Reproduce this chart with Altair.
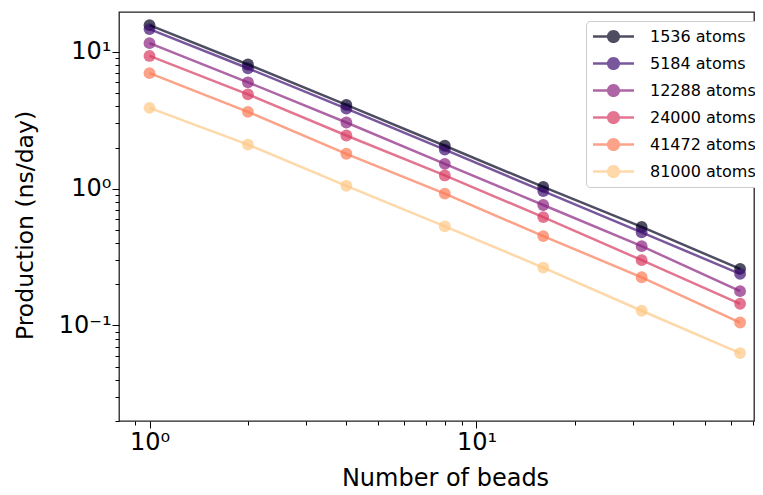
import altair as alt
import pandas as pd

beads = [1, 2, 4, 8, 16, 32, 64]
systems = ["1536 atoms", "5184 atoms", "12288 atoms", "24000 atoms", "41472 atoms", "81000 atoms"]
p1536 = [15.7, 8.1, 4.1, 2.06, 1.03, 0.525, 0.259]
p5184 = [14.7, 7.6, 3.85, 1.93, 0.96, 0.48, 0.238]
p12288 = [11.6, 6.0, 3.05, 1.52, 0.76, 0.38, 0.178]
p24000 = [9.35, 4.9, 2.45, 1.25, 0.62, 0.30, 0.144]
p41472 = [7.0, 3.65, 1.8, 0.92, 0.45, 0.225, 0.105]
p81000 = [3.9, 2.1, 1.05, 0.53, 0.265, 0.128, 0.0628]
series = [p1536, p5184, p12288, p24000, p41472, p81000]
colors = ["#03021f", "#3e0f72", "#8a2480", "#d83a62", "#fa7a55", "#fec785"]

x_ticks = [0.9, 1, 2, 3, 4, 5, 6, 7, 8, 9, 10, 20, 30, 40, 50, 60, 70]
y_ticks = [0.02, 0.03, 0.04, 0.05, 0.06, 0.07, 0.08, 0.09, 0.1,
           0.2, 0.3, 0.4, 0.5, 0.6, 0.7, 0.8, 0.9, 1,
           2, 3, 4, 5, 6, 7, 8, 9, 10]

rows = []
for name, vals in zip(systems, series):
    for b, v in zip(beads, vals):
        rows.append({"beads": b, "prod": v, "system": name})
df = pd.DataFrame(rows)

FONT = "DejaVu Sans"
major_test = "abs(log(datum.value)/LN10 - round(log(datum.value)/LN10)) < 1e-6"
label_expr = ("datum.value == 1 ? '10⁰' : datum.value == 10 ? '10¹' : "
              "datum.value == 0.1 ? '10⁻¹' : ''")

legend_path = ("M -2.5 -0.15 L 2.5 -0.15 L 2.5 0.15 L -2.5 0.15 Z "
               "M -0.8 0 A 0.8 0.8 0 1 1 0.8 0 A 0.8 0.8 0 1 1 -0.8 0 Z")

color = alt.Color(
    "system:N",
    scale=alt.Scale(domain=systems, range=colors),
    sort=systems,
    legend=alt.Legend(
        title=None,
        orient="none",
        legendX=467,
        legendY=9,
        symbolType=legend_path,
        symbolSize=269,
        symbolOffset=12,
        symbolStrokeWidth=0,
        symbolOpacity=0.7,
        labelOffset=28,
        rowPadding=10,
        padding=7,
        labelFont=FONT,
        labelFontSize=16,
        labelColor="black",
        strokeColor="#cccccc",
        cornerRadius=4,
        fillColor="white",
    ),
)

x = alt.X(
    "beads:Q",
    scale=alt.Scale(type="log", domain=[0.8067, 70.58], nice=False),
    axis=alt.Axis(
        title="Number of beads",
        values=x_ticks,
        labelExpr=label_expr,
        grid=False,
        domain=False,
        tickColor="black",
        tickWidth=1,
        tickSize={"condition": {"test": major_test, "value": 7}, "value": 4},
        labelFont=FONT,
        labelFontSize=24,
        labelColor="black",
        labelPadding=2,
        labelOverlap=False,
        labelFlush=False,
        titleFont=FONT,
        titleFontSize=24,
        titleFontWeight="normal",
        titleColor="black",
        titleX=326,
        titleY=64,
        titleBaseline="alphabetic",
    ),
)

y = alt.Y(
    "prod:Q",
    scale=alt.Scale(type="log", domain=[0.02, 19.6], nice=False),
    axis=alt.Axis(
        title="Production (ns/day)",
        values=y_ticks,
        labelExpr=label_expr,
        grid=False,
        domain=False,
        tickColor="black",
        tickWidth=1,
        tickSize={"condition": {"test": major_test, "value": 7}, "value": 4},
        labelFont=FONT,
        labelFontSize=24,
        labelColor="black",
        labelPadding=1,
        labelOverlap=False,
        labelFlush=False,
        titleFont=FONT,
        titleFontSize=23.5,
        titleFontWeight="normal",
        titleColor="black",
        titleX=-87,
        titleY=213,
        titleBaseline="alphabetic",
    ),
)

points = alt.Chart(df).mark_point(filled=True, size=140, opacity=0.7).encode(
    x=x, y=y, color=color
)
lines = alt.Chart(df).mark_line(strokeWidth=2.5, opacity=0.7).encode(
    x=x, y=y, color=color, detail="system:N"
)

chart = (
    alt.layer(points, lines)
    .properties(
        width=635,
        height=409,
        padding={"left": 111, "top": 4, "right": 1, "bottom": 74},
        autosize=alt.AutoSizeParams(type="none"),
        background="white",
    )
    .configure_view(stroke="#222222", strokeWidth=1.3)
)

chart.save("out.html", embed_options={"renderer": "svg", "actions": False})
